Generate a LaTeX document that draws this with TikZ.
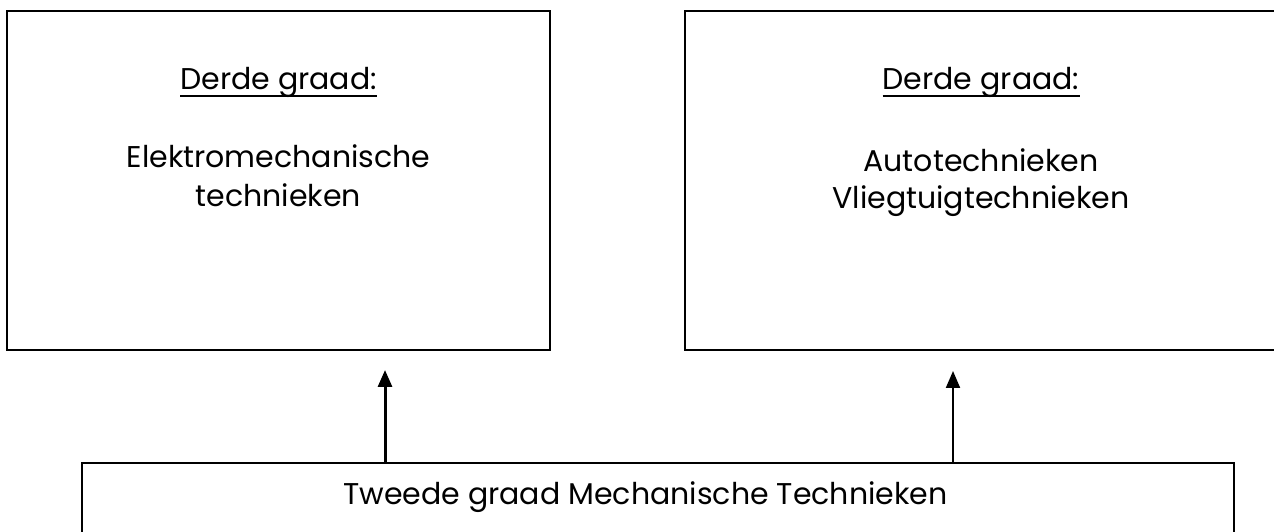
\documentclass[tikz,border=0pt]{standalone}
\usepackage{fontspec}
\setmainfont{Poppins}
\usetikzlibrary{arrows.meta}
\begin{document}
\begin{tikzpicture}[x=1pt,y=1pt,
  boxline/.style={draw=black,line width=1.6pt},
  txt/.style={anchor=base,inner sep=0pt,font=\fontsize{30}{34}\selectfont},
  uline/.style={draw=black,line width=1.8pt},
  uparrow/.style={-{Triangle[length=17pt,width=14pt]}}]
\useasboundingbox (0,0) rectangle (1274,532);
% boxes
\draw[boxline] (7,182) rectangle (550,521);
\draw[boxline] (685,182) rectangle (1280,521);
\draw[boxline] (82,-5) rectangle (1234,69);
\coordinate (bl) at (385,69);
\coordinate (br) at (953,69);
\coordinate (lt) at (385,162);
\coordinate (rt) at (953,161);
% texts left
\node[txt] (l1) at (278.5,442) {Derde graad:};
\draw[uline] ([yshift=-6pt]l1.base west) -- ([yshift=-6pt]l1.base east);
\node[txt] (l2) at (278.5,364) {Elektromechanische};
\node[txt] (l3) at (278.5,325) {technieken};
% texts right
\node[txt] (r1) at (981,442) {Derde graad:};
\draw[uline] ([yshift=-6pt]r1.base west) -- ([yshift=-6pt]r1.base east);
\node[txt] (r2) at (981,360) {Autotechnieken};
\node[txt] (r3) at (981,323) {Vliegtuigtechnieken};
% bottom text
\node[txt,anchor=base west] (b1) at (343,27) {Tweede graad Mechanische Technieken};
% arrows
\draw[uparrow,line width=3pt] (bl) -- (lt);
\draw[uparrow,line width=2pt] (br) -- (rt);
\end{tikzpicture}
\end{document}
